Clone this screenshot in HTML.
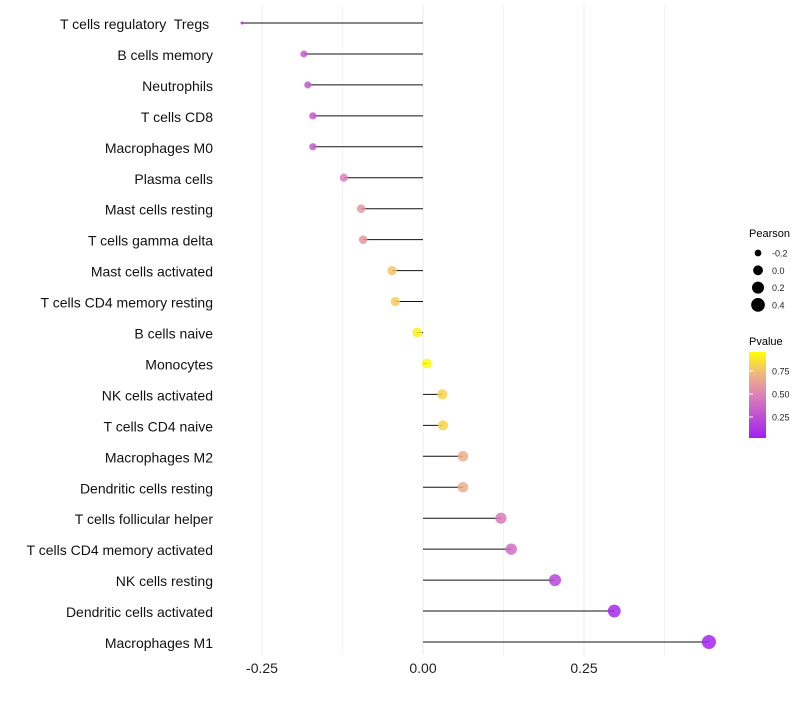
<!DOCTYPE html>
<html><head><meta charset="utf-8"><style>
body{margin:0;background:#fff;font-family:"Liberation Sans",sans-serif}
text{white-space:pre}
</style></head><body>
<svg id="c" width="800" height="700" xmlns="http://www.w3.org/2000/svg">
<defs><linearGradient id="pg" x1="0" y1="1" x2="0" y2="0">
<stop offset="0" stop-color="#a020f0"/><stop offset="0.5" stop-color="#dc80b8"/><stop offset="0.75" stop-color="#f0b880"/><stop offset="1" stop-color="#ffff00"/></linearGradient></defs>
<g id="grid"></g><g id="marks"></g><g id="labels"></g>
<g font-size="10">
<text x="749" y="237" font-size="11">Pearson</text>
<g id="sizeleg"></g>
<text x="749" y="345" font-size="11">Pvalue</text>
<rect x="749" y="352" width="17" height="86" fill="url(#pg)"/>
<g id="colleg"></g>
</g>
</svg>
<script>
const cats=["T cells regulatory  Tregs ","B cells memory","Neutrophils","T cells CD8","Macrophages M0","Plasma cells","Mast cells resting","T cells gamma delta","Mast cells activated","T cells CD4 memory resting","B cells naive","Monocytes","NK cells activated","T cells CD4 naive","Macrophages M2","Dendritic cells resting","T cells follicular helper","T cells CD4 memory activated","NK cells resting","Dendritic cells activated","Macrophages M1"];
const pearson=[-0.281,-0.185,-0.179,-0.171,-0.171,-0.123,-0.096,-0.093,-0.048,-0.043,-0.009,0.006,0.030,0.031,0.062,0.062,0.121,0.137,0.205,0.297,0.444];
const pvals=[0.05,0.3,0.3,0.3,0.3,0.5,0.6,0.6,0.8,0.82,0.95,0.98,0.85,0.85,0.7,0.7,0.47,0.4,0.2,0.05,0.02];
const xticks=[-0.25,0,0.25];
const xtickLabels=["-0.25","0.00","0.25"];
const sizeBreaks=[-0.2,0,0.2,0.4];
const colBreaks=[0.25,0.5,0.75];
const NS="http://www.w3.org/2000/svg";
const X=v=>423+v*644, Y=i=>23+i*30.95;
const R=v=>1.5+5.5*Math.sqrt(Math.max(0,(v+0.28))/0.72);
function lerp(a,b,t){return a.map((x,i)=>Math.round(x+(b[i]-x)*t));}
const stops=[[0,[160,32,240]],[0.5,[220,128,184]],[0.75,[240,184,128]],[1,[255,255,0]]];
function col(p){for(let i=1;i<stops.length;i++){if(p<=stops[i][0]){const t=(p-stops[i-1][0])/(stops[i][0]-stops[i-1][0]);return "rgb("+lerp(stops[i-1][1],stops[i][1],t).join(",")+")";}}return "rgb(255,255,0)";}
function mk(tag,at,par){const e=document.createElementNS(NS,tag);for(const k in at)e.setAttribute(k,at[k]);document.getElementById(par).appendChild(e);return e;}
for(let g=-0.25;g<=0.376;g+=0.125){const l=mk("line",{x1:X(g),x2:X(g),y1:5,y2:655,stroke:"#ebebeb","stroke-width":Math.abs(g*8%2)<0.01?1:0.6},"grid");

}
xticks.forEach((t,i)=>{const e=mk("text",{x:X(t),y:673,"text-anchor":"middle","font-size":14,fill:"#222"},"labels");e.textContent=xtickLabels[i];

});
cats.forEach((c,i)=>{
const t=mk("text",{x:213,y:Y(i)+6,"text-anchor":"end","font-size":14,fill:"#111"},"labels");t.textContent=c;


const l=mk("line",{x1:X(0),x2:X(pearson[i]),y1:Y(i),y2:Y(i),stroke:"#111","stroke-width":1},"marks");


const d=mk("circle",{cx:X(pearson[i]),cy:Y(i),r:R(pearson[i]),fill:col(pvals[i]),"fill-opacity":0.85},"marks");


});
sizeBreaks.forEach((s,i)=>{const y=253+i*17.3;
const c=mk("circle",{cx:758,cy:y,r:R(s),fill:"#000"},"sizeleg");


const t=mk("text",{x:772,y:y+3.5,"font-size":9,fill:"#222"},"sizeleg");t.textContent=s.toFixed(1);

});
colBreaks.forEach(b=>{const y=440-b*92;
const t=mk("text",{x:772,y:y+3.5,"font-size":9,fill:"#222"},"colleg");t.textContent=b.toFixed(2);


const l=mk("line",{x1:749,x2:753,y1:y,y2:y,stroke:"#fff"},"colleg");

});
</script>
</body></html>
